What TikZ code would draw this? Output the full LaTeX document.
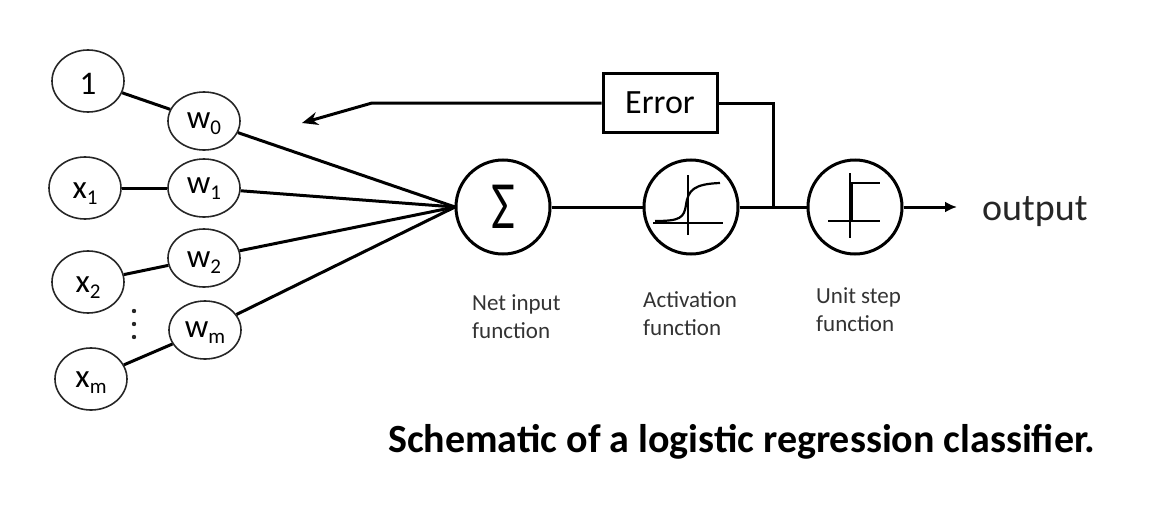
\documentclass[tikz,border=0pt]{standalone}
\usepackage{fontspec}
\setmainfont{Carlito}
\usetikzlibrary{shapes.geometric,arrows.meta}
\newcommand{\sbs}[1]{\raisebox{-6.5pt}{\fontsize{21}{21}\selectfont #1}}
\begin{document}
\begin{tikzpicture}[x=1pt,y=-1pt,
  inp/.style={ellipse,draw=black!85,line width=1.6pt,minimum width=72pt,minimum height=62pt,inner sep=0pt,text height=20pt,text depth=0pt,font=\fontsize{33}{33}\selectfont},
  wt/.style={ellipse,draw=black!85,line width=1.6pt,minimum width=72pt,minimum height=58pt,inner sep=0pt,text height=14pt,text depth=0pt,font=\fontsize{33}{33}\selectfont},
  fn/.style={circle,draw,line width=3pt,minimum size=94pt,inner sep=0pt},
  wire/.style={line width=3pt},
  thinax/.style={line width=1.2pt},
  glyph/.style={line width=2.2pt},
  lbl/.style={align=left,anchor=north west,font=\fontsize{23}{28}\selectfont,text=black!80,inner sep=0pt},
  errbox/.style={draw,line width=3pt,minimum width=114pt,minimum height=59pt,inner sep=0pt,font=\fontsize{34}{34}\selectfont},
  dotm/.style={circle,fill=black!85,inner sep=0pt,minimum size=4.4pt}
]
\useasboundingbox (0,0) rectangle (1160,514);
% inputs
\node[inp,text height=27pt] (one) at (88,81) {1};
\node[inp] (x1) at (85,188) {x\sbs{1}};
\node[inp] (x2) at (88,282) {x\sbs{2}};
\node[inp,text height=16pt] (xm) at (91,379) {x\sbs{m}};
% weights
\node[wt] (w0) at (204,121) {w\sbs{0}};
\node[wt,text height=10pt] (w1) at (204,188) {w\sbs{1}};
\node[wt,text height=18pt] (w2) at (204,258) {w\sbs{2}};
\node[wt] (wm) at (205,330) {w\sbs{m}};
% dots
\node[dotm] (d1) at (134,311) {};
\node[dotm] (d2) at (134,324) {};
\node[dotm] (d3) at (134,337) {};
% function circles
\node[fn] (sum) at (503,207) {\fontsize{52}{52}\selectfont\scalebox{1}[1.3]{Σ}};
\node[fn] (act) at (691,207) {};
\node[fn] (stp) at (855,207) {};
\node[errbox] (err) at (660,103) {Error};
% coordinates
\coordinate (conv) at (455,207);
\coordinate (junc) at (773,207);
\coordinate (bend) at (372,103);
\coordinate (fbtip) at (302,123);
\coordinate (outtip) at (957,207);
% connectors
\draw[wire] (one) -- (w0);
\draw[wire] (x1) -- (w1);
\draw[wire] (x2) -- (w2);
\draw[wire] (xm) -- (wm);
\draw[wire] (w0) -- (conv);
\draw[wire] (w1) -- (conv);
\draw[wire] (w2) -- (conv);
\draw[wire] (wm) -- (conv);
\draw[wire] (sum) -- (act);
\draw[wire] (act) -- (stp);
\draw[wire] (junc) |- (err.east);
\draw[wire,-{Stealth[length=16pt,width=13pt]}] (err.west) -- (bend) -- (fbtip);
\draw[wire,-{Latex[length=12pt,width=11pt]}] (stp) -- (outtip);
% sigmoid glyph
\draw[thinax] (688,175) -- (688,235);
\draw[thinax] (653,223) -- (723,223);
\draw[glyph] (655,221) .. controls (680,221) and (684,218) .. (686,205) .. controls (688,190) and (694,184) .. (720,183);
% step glyph
\draw[thinax] (850,173) -- (850,238);
\draw[thinax] (828,221) -- (880,221);
\draw[glyph] (828,221) -- (852,221) -- (852,183) -- (880,183);
% labels
\node[lbl] (lsum) at (472,294) {Net input\\function};
\node[lbl] (lact) at (643,291) {Activation\\function};
\node[lbl] (lstp) at (816,287) {Unit step\\function};
\node[anchor=base west,inner sep=0pt,font=\fontsize{38}{38}\selectfont,text=black!85] (out) at (982,220) {output};
\node[anchor=base west,inner sep=0pt,font=\fontsize{40}{40}\selectfont\bfseries] (cap) at (388,452) {Schematic of a logistic regression classifier.};
\end{tikzpicture}
\end{document}
